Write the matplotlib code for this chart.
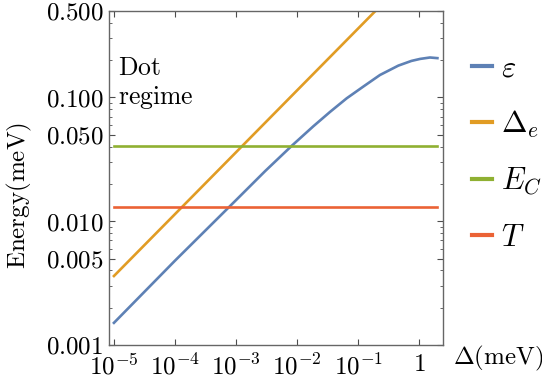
import matplotlib
matplotlib.use("Agg")
import matplotlib.pyplot as plt
import numpy as np
from matplotlib.ticker import LogLocator, NullFormatter, FixedLocator

plt.rcParams['mathtext.fontset'] = 'cm'
plt.rcParams['font.family'] = 'DejaVu Serif'

# valores (meV)
delta = [1e-5, 1e-4, 1e-3, 3e-3, 8.2e-3, 0.0185, 0.0348, 0.0652, 0.122, 0.229,
         0.458, 0.75, 1.04, 1.51, 2.0]
epsilon = [0.00151, 0.0048, 0.0148, 0.0254, 0.0407, 0.0585, 0.0765, 0.0985, 0.1225, 0.152,
           0.181, 0.1975, 0.205, 0.2105, 0.208]
delta_e_x = [1e-5, 2.0]
delta_e = [0.00361, 1.61]
ec_x = [1e-5, 2.0]
ec = [0.0406, 0.0406]
t_x = [1e-5, 2.0]
temp = [0.0131, 0.0131]

yticks = [0.001, 0.005, 0.010, 0.050, 0.100, 0.500]
ylabels = ["0.001", "0.005", "0.010", "0.050", "0.100", "0.500"]
xticks = [1e-5, 1e-4, 1e-3, 1e-2, 1e-1, 1]
xlabels = [r"$10^{-5}$", r"$10^{-4}$", r"$10^{-3}$", r"$10^{-2}$", r"$10^{-1}$", r"$1$"]

fig = plt.figure(figsize=(5.42, 3.83), dpi=100)
ax = fig.add_axes([109/542, 1 - 345/383, 334/542, 334/383])

lw = 1.9
ax.plot(delta, epsilon, color="#5E81B5", lw=lw, label=r"$\varepsilon$")
ax.plot(delta_e_x, delta_e, color="#E19C24", lw=lw, label=r"$\Delta_e$")
ax.plot(ec_x, ec, color="#8FB032", lw=lw, label=r"$E_C$")
ax.plot(t_x, temp, color="#EB6235", lw=lw, label=r"$T$")

ax.set_xscale("log")
ax.set_yscale("log")
ax.set_xlim(8.3e-6, 2.47)
ax.set_ylim(0.001, 0.5)

ax.xaxis.set_major_locator(FixedLocator(xticks))
ax.set_xticklabels(xlabels)
ax.xaxis.set_minor_locator(LogLocator(base=10, subs=np.arange(2, 10)))
ax.xaxis.set_minor_formatter(NullFormatter())
ax.yaxis.set_major_locator(FixedLocator(yticks))
ax.set_yticklabels([r"$%s$" % s for s in ylabels])
ax.yaxis.set_minor_locator(LogLocator(base=10, subs=np.arange(1, 10)))
ax.yaxis.set_minor_formatter(NullFormatter())

for s in ax.spines.values():
    s.set_color("0.4")
    s.set_linewidth(1.0)
ax.tick_params(which="both", direction="in", top=True, right=True, color="0.3",
               labelsize=18)
ax.tick_params(axis="x", which="major", pad=6)
ax.tick_params(axis="y", which="major", pad=4)
ax.tick_params(which="major", length=4, width=0.8)
ax.tick_params(which="minor", length=2.2, width=0.6)

ax.text(0.027, 0.868, r"$\mathrm{Dot}$" + "\n" + r"$\mathrm{regime}$", transform=ax.transAxes,
        fontsize=18.5, va="top", ha="left", linespacing=1.2)

fig.text(0.035, 188/383, r"$\mathrm{Energy}(\mathrm{meV})$", rotation=90, fontsize=18,
         ha="center", va="center")
fig.text(453/542, 1 - 358/383, r"$\Delta(\mathrm{meV})$", fontsize=18, ha="left", va="center")

leg = ax.legend(loc="center left", bbox_to_anchor=(1.087, 0.575), frameon=False, fontsize=22,
                handlelength=0.65, handletextpad=0.3, labelspacing=0.82, borderaxespad=0,
                borderpad=0)
for h in leg.get_lines():
    h.set_linewidth(3)

fig.savefig("out.png", dpi=100)
